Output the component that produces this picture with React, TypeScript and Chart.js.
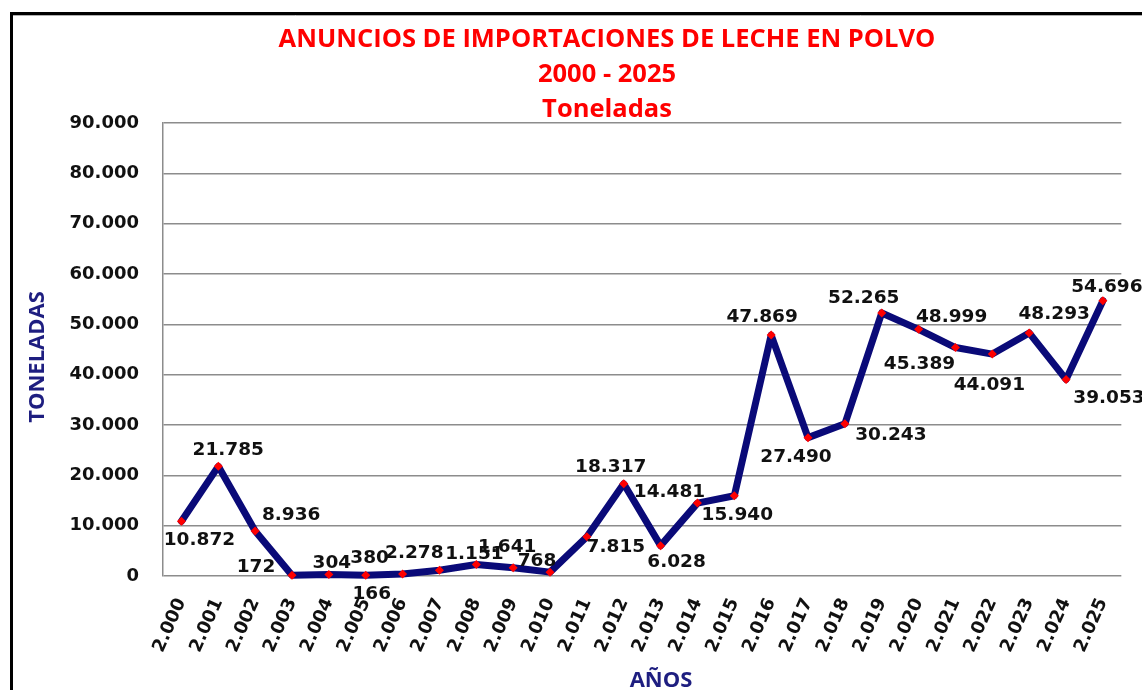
import React, { useEffect, useRef } from 'react';
import { Chart, registerables } from 'chart.js';

Chart.register(...registerables);

const years = [
  2000, 2001, 2002, 2003, 2004, 2005, 2006, 2007, 2008, 2009, 2010, 2011, 2012,
  2013, 2014, 2015, 2016, 2017, 2018, 2019, 2020, 2021, 2022, 2023, 2024, 2025,
];

const tonnes = [
  10872, 21785, 8936, 172, 304, 166, 380, 1151, 2278, 1641, 768, 7815, 18317,
  6028, 14481, 15940, 47869, 27490, 30243, 52265, 48999, 45389, 44091, 48293, 39053, 54696,
];

const yTickValues = [0, 10000, 20000, 30000, 40000, 50000, 60000, 70000, 80000, 90000];

const titleLines = ['ANUNCIOS DE IMPORTACIONES DE LECHE EN POLVO', '2000 - 2025', 'Toneladas'];
const yAxisTitle = 'TONELADAS';
const xAxisTitle = 'AÑOS';

// label placement relative to each point (style, not data)
const labelOffsets: [number, number][] = [
  [18, 19], [10, -16], [36, -16], [-36, -8], [3, -11], [6, 19], [-33, -16],
  [35, -16], [-62, -11], [-6, -21], [-13, -11], [29, 11], [-13, -17], [16, 17],
  [-28, -11], [3, 19], [-9, -18], [-12, 20], [46, 11], [-18, -15], [33, -12],
  [-36, 17], [-3, 31], [25, -19], [43, 19], [4, -14],
];

function fmtThousands(n: number): string {
  const s = Math.round(n).toString();
  return s.replace(/\B(?=(\d{3})+(?!\d))/g, '.');
}

const LABEL_FONT = 'bold 18.5px "DejaVu Sans"';
const TEXT_DARK = '#111111';
const NAVY = '#1e1e80';

const decorations = {
  id: 'decorations',
  beforeDraw(chart: any) {
    const ctx = chart.ctx as CanvasRenderingContext2D;
    ctx.save();
    ctx.fillStyle = '#ffffff';
    ctx.fillRect(0, 0, chart.width, chart.height);
    ctx.strokeStyle = '#000000';
    ctx.lineWidth = 3;
    ctx.beginPath();
    ctx.moveTo(11.5, chart.height + 5);
    ctx.lineTo(11.5, 13.5);
    ctx.lineTo(chart.width + 5, 13.5);
    ctx.stroke();
    ctx.strokeStyle = '#b0b0b0';
    ctx.lineWidth = 1;
    ctx.beginPath();
    ctx.moveTo(13, 15.5);
    ctx.lineTo(chart.width + 5, 15.5);
    ctx.stroke();
    ctx.restore();
  },
  afterDatasetsDraw(chart: any) {
    const ctx = chart.ctx as CanvasRenderingContext2D;
    const meta = chart.getDatasetMeta(0);
    ctx.save();
    ctx.font = LABEL_FONT;
    ctx.fillStyle = TEXT_DARK;
    ctx.textAlign = 'center';
    ctx.textBaseline = 'middle';
    meta.data.forEach((pt: any, i: number) => {
      const [dx, dy] = labelOffsets[i] || [0, -14];
      ctx.fillText(fmtThousands(tonnes[i]), pt.x + dx, pt.y + dy);
    });
    ctx.restore();
  },
  afterDraw(chart: any) {
    const ctx = chart.ctx as CanvasRenderingContext2D;
    ctx.save();
    ctx.fillStyle = '#ff0000';
    ctx.textAlign = 'center';
    ctx.textBaseline = 'alphabetic';
    ctx.font = 'bold 25.5px "Open Sans"';
    const baselines = [47, 82, 117];
    titleLines.forEach((t, i) => ctx.fillText(t, 607, baselines[i]));

    ctx.fillStyle = NAVY;
    ctx.font = 'bold 22px "Open Sans"';
    ctx.save();
    ctx.translate(44, 357);
    ctx.rotate(-Math.PI / 2);
    ctx.fillText(yAxisTitle, 0, 0);
    ctx.restore();

    ctx.font = 'bold 22px "Open Sans"';
    ctx.fillText(xAxisTitle, 661, 687);
    ctx.restore();
  },
};

export default function App() {
  const canvasRef = useRef<HTMLCanvasElement | null>(null);

  useEffect(() => {
    const canvas = canvasRef.current;
    if (!canvas) return;
    const chart = new Chart(canvas, {
      type: 'line',
      data: {
        labels: years.map((y) => fmtThousands(y)),
        datasets: [
          {
            data: tonnes,
            borderColor: '#0a0a78',
            borderWidth: 7,
            borderJoinStyle: 'round',
            borderCapStyle: 'round',
            tension: 0,
            pointStyle: 'rectRot',
            pointRadius: 4.5,
            pointBackgroundColor: '#ff0000',
            pointBorderWidth: 0,
            pointBorderColor: '#ff0000',
            fill: false,
            clip: false as any,
          },
        ],
      },
      options: {
        responsive: false,
        animation: false,
        devicePixelRatio: 1,
        layout: { padding: { left: 0, top: 123, right: 19, bottom: 0 } },
        plugins: {
          legend: { display: false },
          title: { display: false },
          tooltip: { enabled: false },
        },
        scales: {
          x: {
            type: 'category',
            offset: true,
            grid: { display: false, drawTicks: false },
            border: { display: false },
            ticks: {
              autoSkip: false,
              minRotation: 66,
              maxRotation: 66,
              padding: 19,
              color: TEXT_DARK,
              font: { family: 'DejaVu Sans', size: 18, weight: 'bold' },
            },
            afterFit: (scale: any) => {
              scale.height = 690 - 576;
            },
          },
          y: {
            min: 0,
            max: 90000,
            grid: { color: '#8c8c8c', lineWidth: 1.5, drawTicks: false },
            border: { display: true, color: '#8c8c8c', width: 1.5 },
            afterBuildTicks: (scale: any) => {
              scale.ticks = yTickValues.map((v) => ({ value: v }));
            },
            ticks: {
              padding: 24,
              color: TEXT_DARK,
              font: { family: 'DejaVu Sans', size: 18, weight: 'bold' },
              callback: (v: any) => fmtThousands(Number(v)),
            },
            afterFit: (scale: any) => {
              scale.width = 163;
            },
          },
        },
      },
      plugins: [decorations],
    });
    return () => chart.destroy();
  }, []);

  return (
    <div style={{ position: 'absolute', left: 0, top: 0, width: 1142, height: 690, overflow: 'hidden', background: '#fff' }}>
      <canvas ref={canvasRef} width={1142} height={690} style={{ width: 1142, height: 690, display: 'block' }} />
    </div>
  );
}
